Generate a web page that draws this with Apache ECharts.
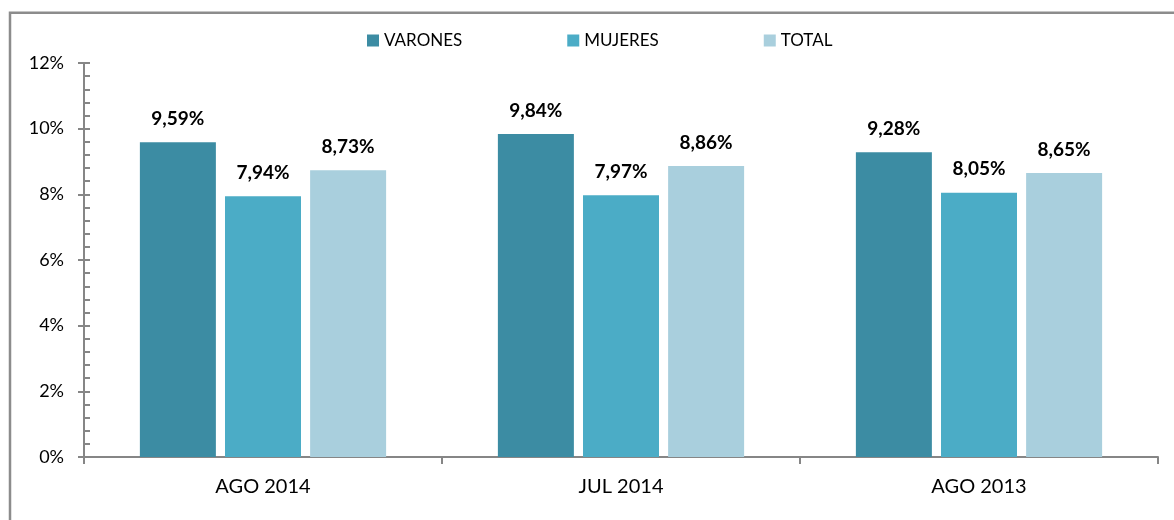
<!DOCTYPE html>
<html>
<head>
<meta charset="utf-8">
<script src="https://cdn.jsdelivr.net/npm/echarts@6/dist/echarts.min.js"></script>
<style>
  html, body { margin: 0; padding: 0; background: #fff; }
  #chart { width: 1174px; height: 520px; }
</style>
</head>
<body>
<div id="chart"></div>
<script>
// Data
const categories = ['AGO 2014', 'JUL 2014', 'AGO 2013'];
const varones = [9.59, 9.84, 9.28];
const mujeres = [7.94, 7.97, 8.05];
const total = [8.73, 8.86, 8.65];
const yTicks = [0, 2, 4, 6, 8, 10, 12];

const FONT = 'Lato';
const AXIS_GRAY = '#868686';

const chart = echarts.init(document.getElementById('chart'), null, { renderer: 'canvas' });

const fmt = (v) => v.toFixed(2).replace('.', ',') + '%';

function barSeries(name, data, color) {
  return {
    name: name,
    type: 'bar',
    data: data,
    barWidth: 76,
    barGap: '12%',
    itemStyle: { color: color },
    label: {
      show: true,
      position: 'top',
      distance: 14,
      formatter: (p) => fmt(p.value),
      fontFamily: FONT,
      fontWeight: 'bold',
      fontSize: 19,
      color: '#000'
    }
  };
}

const option = {
  animation: false,
  backgroundColor: '#fff',
  graphic: [{
    type: 'rect',
    shape: { x: 10, y: 12.7, width: 1200, height: 560 },
    style: { fill: 'none', stroke: '#8c8c8c', lineWidth: 2.5 },
    silent: true
  }],
  legend: {
    left: 362,
    top: 27,
    itemWidth: 12,
    itemHeight: 12,
    itemGap: 105,
    icon: 'rect',
    textStyle: { fontFamily: FONT, fontSize: 17, color: '#000' },
    data: ['VARONES', 'MUJERES', 'TOTAL']
  },
  grid: { left: 84, right: 16, top: 63, bottom: 63 },
  xAxis: {
    type: 'category',
    data: categories,
    axisLine: { lineStyle: { color: AXIS_GRAY, width: 2 } },
    axisTick: { show: true, length: 7, lineStyle: { color: AXIS_GRAY, width: 2 } },
    axisLabel: { margin: 20, fontFamily: FONT, fontSize: 20, color: '#000' }
  },
  yAxis: [{
    type: 'value',
    position: 'left',
    min: yTicks[0],
    max: yTicks[yTicks.length - 1],
    interval: 2,
    axisLine: { show: true, lineStyle: { color: AXIS_GRAY, width: 2 } },
    axisTick: { show: true, length: 6, lineStyle: { color: AXIS_GRAY, width: 2 } },
    splitLine: { show: false },
    axisLabel: {
      margin: 20,
      fontFamily: FONT,
      fontSize: 18,
      color: '#000',
      formatter: (v) => v + '%'
    }
  }, {
    type: 'value',
    position: 'left',
    offset: 0,
    min: yTicks[0],
    max: yTicks[yTicks.length - 1],
    interval: 2,
    axisLine: { show: false },
    axisTick: { show: true, inside: true, length: 6, lineStyle: { color: AXIS_GRAY, width: 2 } },
    minorTick: { show: true, splitNumber: 5, length: 6, lineStyle: { color: AXIS_GRAY, width: 2 } },
    splitLine: { show: false },
    axisLabel: { show: false }
  }],
  series: [
    barSeries('VARONES', varones, '#3c8ca3'),
    barSeries('MUJERES', mujeres, '#4bacc6'),
    barSeries('TOTAL', total, '#a9cfdd')
  ]
};

chart.setOption(option);
window.addEventListener('resize', () => chart.resize());
</script>
</body>
</html>
